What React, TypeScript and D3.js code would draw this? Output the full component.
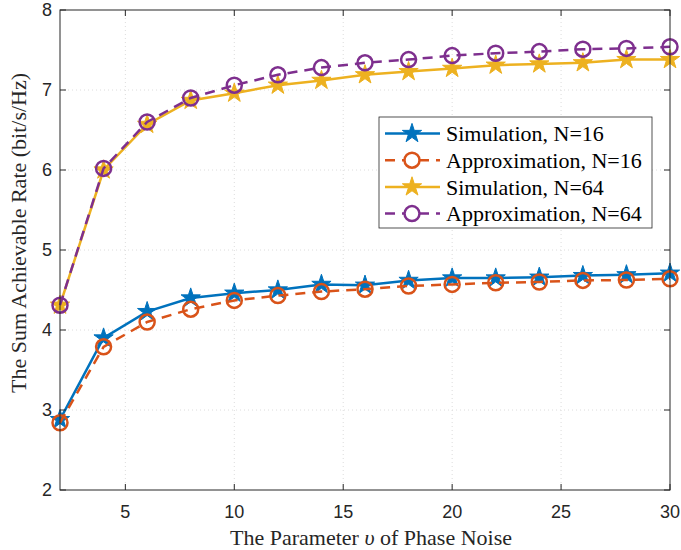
import React, { useEffect, useRef } from "react";
import * as d3 from "d3";

const xs = [2, 4, 6, 8, 10, 12, 14, 16, 18, 20, 22, 24, 26, 28, 30];
const sim16 = [2.88, 3.9, 4.23, 4.4, 4.46, 4.5, 4.57, 4.56, 4.62, 4.65, 4.65, 4.66, 4.68, 4.69, 4.71];
const app16 = [2.84, 3.79, 4.1, 4.26, 4.37, 4.43, 4.48, 4.51, 4.55, 4.57, 4.59, 4.6, 4.62, 4.625, 4.64];
const sim64 = [4.31, 6.0, 6.57, 6.87, 6.96, 7.06, 7.12, 7.19, 7.23, 7.27, 7.31, 7.325, 7.34, 7.38, 7.38];
const app64 = [4.31, 6.02, 6.6, 6.9, 7.06, 7.19, 7.28, 7.34, 7.38, 7.43, 7.46, 7.48, 7.51, 7.52, 7.54];

const xTicks = [5, 10, 15, 20, 25, 30];
const yTicks = [2, 3, 4, 5, 6, 7, 8];

const series = [
  { name: "Simulation, N=16", values: sim16, color: "#0072BD", dash: null, marker: "star" },
  { name: "Approximation, N=16", values: app16, color: "#D95319", dash: "10,7", marker: "circle" },
  { name: "Simulation, N=64", values: sim64, color: "#EDB120", dash: null, marker: "star" },
  { name: "Approximation, N=64", values: app64, color: "#7E2F8E", dash: "10,7", marker: "circle" },
];

const width = 681;
const height = 550;
const margin = { top: 10, right: 11, bottom: 60, left: 60 };

export default function App() {
  const ref = useRef<SVGSVGElement>(null);

  useEffect(() => {
    const svg = d3.select(ref.current);
    svg.selectAll("*").remove();

    const x = d3.scaleLinear().domain([2, 30]).range([margin.left, width - margin.right]);
    const y = d3.scaleLinear().domain([2, 8]).range([height - margin.bottom, margin.top]);
    const [x0, x1] = x.range();
    const [y0, y1] = y.range();

    svg.append("rect").attr("x", 0).attr("y", 0).attr("width", width).attr("height", height).attr("fill", "#fff");

    // grid
    const grid = svg.append("g").attr("stroke", "#dcdcdc").attr("stroke-width", 1).attr("stroke-dasharray", "1,3");
    grid.selectAll(".gx").data(xTicks.filter(t => t < 30)).join("line")
      .attr("x1", d => x(d)).attr("x2", d => x(d)).attr("y1", y1).attr("y2", y0);
    grid.selectAll(".gy").data(yTicks.filter(t => t > 2 && t < 8)).join("line")
      .attr("y1", d => y(d)).attr("y2", d => y(d)).attr("x1", x0).attr("x2", x1);

    // lines and markers
    const line = d3.line<number>().x((d, i) => x(xs[i])).y(d => y(d));
    const star = d3.symbol().type(d3.symbolStar).size(115);
    series.forEach(s => {
      svg.append("path").attr("d", line(s.values)).attr("fill", "none")
        .attr("stroke", s.color).attr("stroke-width", 2.5)
        .attr("stroke-dasharray", s.dash);
      const g = svg.append("g");
      if (s.marker === "star") {
        g.selectAll("path").data(s.values).join("path")
          .attr("d", star())
          .attr("transform", (d, i) => `translate(${x(xs[i])},${y(d)})`)
          .attr("fill", s.color).attr("stroke", s.color).attr("stroke-width", 1);
      } else {
        g.selectAll("circle").data(s.values).join("circle")
          .attr("cx", (d, i) => x(xs[i])).attr("cy", d => y(d)).attr("r", 7.5)
          .attr("fill", "none").attr("stroke", s.color).attr("stroke-width", 2.5);
      }
    });

    // axes box and ticks
    const ax = svg.append("g").attr("stroke", "#262626").attr("stroke-width", 1);
    ax.append("rect").attr("x", x0).attr("y", y1).attr("width", x1 - x0).attr("height", y0 - y1).attr("fill", "none");
    ax.selectAll(".tx").data(xTicks).join("path")
      .attr("d", d => `M${x(d)},${y0}v-6M${x(d)},${y1}v6`);
    ax.selectAll(".ty").data(yTicks).join("path")
      .attr("d", d => `M${x0},${y(d)}h6M${x1},${y(d)}h-6`);

    const tickFont = "'Liberation Sans', Arial, sans-serif";
    svg.append("g").selectAll("text").data(xTicks).join("text")
      .attr("x", d => x(d)).attr("y", y0 + 28).attr("text-anchor", "middle")
      .attr("font-family", tickFont).attr("font-size", 18).attr("fill", "#262626")
      .text(d => d);
    svg.append("g").selectAll("text").data(yTicks).join("text")
      .attr("x", x0 - 8).attr("y", d => y(d)).attr("dy", "0.36em").attr("text-anchor", "end")
      .attr("font-family", tickFont).attr("font-size", 18).attr("fill", "#262626")
      .text(d => d);

    const serif = "'Liberation Serif', 'Times New Roman', serif";
    const xl = svg.append("text").attr("x", 371).attr("y", 545).attr("text-anchor", "middle")
      .attr("font-family", serif).attr("font-size", 22).attr("fill", "#262626");
    xl.append("tspan").text("The Parameter ");
    xl.append("tspan").attr("font-style", "italic").text("υ");
    xl.append("tspan").text(" of Phase Noise");

    svg.append("text").attr("transform", `translate(26,233) rotate(-90)`)
      .attr("text-anchor", "middle").attr("font-family", serif).attr("font-size", 22).attr("fill", "#262626")
      .text("The Sum Achievable Rate (bit/s/Hz)");

    // legend
    const lg = svg.append("g").attr("transform", "translate(379,117)");
    lg.append("rect").attr("width", 273).attr("height", 111).attr("fill", "#fff").attr("stroke", "#262626").attr("stroke-width", 0.8);
    series.forEach((s, i) => {
      const yy = 16.5 + i * 26.7;
      const row = lg.append("g").attr("transform", `translate(0,${yy})`);
      row.append("line").attr("x1", 6).attr("x2", 61).attr("y1", 0).attr("y2", 0)
        .attr("stroke", s.color).attr("stroke-width", 2.5).attr("stroke-dasharray", s.dash);
      if (s.marker === "star") {
        row.append("path").attr("d", star()).attr("transform", "translate(33,0)")
          .attr("fill", s.color).attr("stroke", s.color);
      } else {
        row.append("circle").attr("cx", 33).attr("cy", 0).attr("r", 7.5)
          .attr("fill", "#fff").attr("stroke", s.color).attr("stroke-width", 2.5);
      }
      row.append("text").attr("x", 67).attr("y", 0).attr("dy", "0.35em")
        .attr("font-family", serif).attr("font-size", 22).attr("fill", "#000").text(s.name);
    });
  }, []);

  return <svg ref={ref} width={width} height={height} style={{ display: "block", position: "absolute", left: 0, top: 0 }} />;
}
